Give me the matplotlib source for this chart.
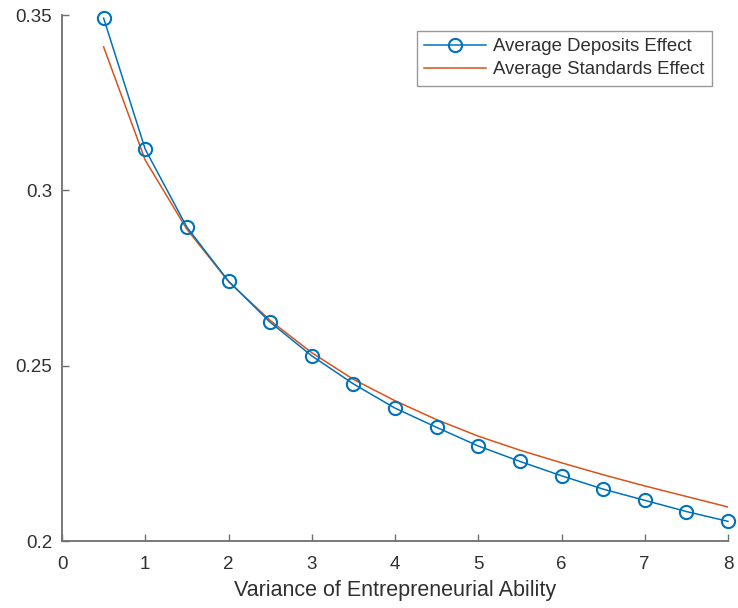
import matplotlib
matplotlib.use("Agg")
import matplotlib.pyplot as plt
from matplotlib.ticker import FixedLocator, FixedFormatter

plt.rcParams['font.family'] = ['Liberation Sans', 'DejaVu Sans']

variance = [0.5, 1, 1.5, 2, 2.5, 3, 3.5, 4, 4.5, 5, 5.5, 6, 6.5, 7, 7.5, 8]
deposits_effect = [0.3491, 0.3117, 0.2895, 0.2741, 0.2624, 0.2528, 0.2448, 0.2379,
                   0.2324, 0.2271, 0.2227, 0.2186, 0.2148, 0.2116, 0.2084, 0.2056]
standards_effect = [0.3409, 0.3086, 0.2889, 0.2740, 0.2629, 0.2537, 0.2461, 0.2400,
                    0.2346, 0.2299, 0.2259, 0.2223, 0.2189, 0.2157, 0.2127, 0.2097]

x_ticks = [0, 1, 2, 3, 4, 5, 6, 7, 8]
y_ticks = [0.2, 0.25, 0.3, 0.35]
y_tick_labels = ["0.2", "0.25", "0.3", "0.35"]

blue = "#0072BD"
orange = "#D95319"
axis_gray = "#707070"
text_gray = "#303030"

fig = plt.figure(figsize=(7.38, 6.08), dpi=100)
ax = fig.add_axes([62 / 738, 67 / 608, (728 - 62) / 738, (541 - 15) / 608])

ax.plot(variance, deposits_effect, color=blue, lw=1.1, marker='o', ms=9.5,
        mfc='none', mec=blue, mew=1.5, label="Average Deposits Effect",
        clip_on=False, zorder=3)
ax.plot(variance, standards_effect, color=orange, lw=1.1,
        label="Average Standards Effect", zorder=2)

ax.set_xlim(0, 8)
ax.set_ylim(0.2, 0.35)
ax.xaxis.set_major_locator(FixedLocator(x_ticks))
ax.yaxis.set_major_locator(FixedLocator(y_ticks))
ax.yaxis.set_major_formatter(FixedFormatter(y_tick_labels))

for side in ("top", "right"):
    ax.spines[side].set_visible(False)
for side in ("left", "bottom"):
    ax.spines[side].set_color(axis_gray)
    ax.spines[side].set_linewidth(1.3)

ax.tick_params(direction='in', length=5, width=1.0, color=axis_gray,
               labelcolor=text_gray, labelsize=13.5)
ax.tick_params(axis='x', pad=11)
ax.tick_params(axis='y', pad=7)

ax.set_xlabel("Variance of Entrepreneurial Ability", fontsize=15.5,
              color=text_gray, labelpad=5)

leg = ax.legend(loc='upper right', fontsize=13.4, handlelength=3.3,
                frameon=True, fancybox=False, borderpad=0.4,
                labelspacing=0.3, handletextpad=0.4, borderaxespad=0)
leg.set_bbox_to_anchor(((712 - 62) / 666, 1 - (31 - 15) / 526), transform=ax.transAxes)
frame = leg.get_frame()
frame.set_edgecolor("#808080")
frame.set_linewidth(1.0)
for t in leg.get_texts():
    t.set_color(text_gray)

fig.savefig("out.png", dpi=100, facecolor="white")
